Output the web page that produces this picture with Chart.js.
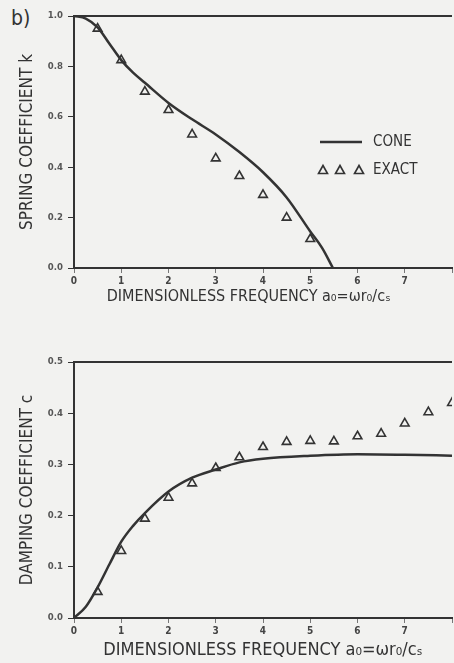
<!DOCTYPE html>
<html>
<head>
<meta charset="utf-8">
<script src="https://cdn.jsdelivr.net/npm/chart.js@4"></script>
<style>
  body { margin: 0; background: #f2f2f0; width: 454px; height: 663px; overflow: hidden; }
  .box { position: absolute; left: 0; width: 454px; }
  #label {
    position: absolute; left: 11px; top: 6px;
    font: 21px "Liberation Sans Narrow", "DejaVu Sans Condensed", sans-serif; color: #333;
  }
</style>
</head>
<body>
<div id="label">b)</div>
<div class="box" style="top:0;height:308px"><canvas id="spring"></canvas></div>
<div class="box" style="top:330px;height:333px"><canvas id="damping"></canvas></div>
<script>
// values
const coneFreqK = [0, 0.25, 0.5, 0.75, 1.0, 1.25, 1.5, 2.0, 2.5, 3.0, 3.5, 4.0, 4.5, 5.0, 5.25, 5.48];
const coneSpring = [1.0, 0.99, 0.955, 0.89, 0.825, 0.775, 0.735, 0.655, 0.59, 0.53, 0.46, 0.38, 0.28, 0.145, 0.08, 0.0];
const exactFreqK = [0.5, 1.0, 1.5, 2.0, 2.5, 3.0, 3.5, 4.0, 4.5, 5.0];
const exactSpring = [0.95, 0.825, 0.70, 0.627, 0.53, 0.435, 0.365, 0.29, 0.20, 0.115];

const coneFreqC = [0, 0.25, 0.5, 0.75, 1.0, 1.25, 1.5, 2.0, 2.5, 3.0, 3.5, 4.0, 5.0, 6.0, 7.0, 8.0];
const coneDamping = [0, 0.022, 0.06, 0.105, 0.149, 0.18, 0.205, 0.247, 0.274, 0.29, 0.304, 0.311, 0.317, 0.32, 0.319, 0.317];
const exactFreqC = [0.5, 1.0, 1.5, 2.0, 2.5, 3.0, 3.5, 4.0, 4.5, 5.0, 5.5, 6.0, 6.5, 7.0, 7.5, 8.0];
const exactDamping = [0.051, 0.131, 0.194, 0.235, 0.263, 0.293, 0.314, 0.334, 0.344, 0.346, 0.345, 0.355, 0.36, 0.38, 0.402, 0.42];

const freqTicks = [0, 1, 2, 3, 4, 5, 6, 7, 8];
const springTicks = [0, 0.2, 0.4, 0.6, 0.8, 1.0];
const dampingTicks = [0, 0.1, 0.2, 0.3, 0.4, 0.5];

const INK = "#333";
const NARROW = '"Liberation Sans Narrow", "DejaVu Sans Condensed", sans-serif';
const FREQ_TITLE = "DIMENSIONLESS FREQUENCY a\u2080=\u03c9r\u2080/c\u209b";

function pts(xs, ys) {
  return xs.map((x, i) => ({ x: x, y: ys[i] }));
}

// top border line of the plot frame
const frame = {
  id: "frame",
  afterDraw(chart) {
    const c = chart.ctx, a = chart.chartArea;
    c.save();
    c.strokeStyle = INK;
    c.lineWidth = 2;
    c.beginPath();
    c.moveTo(a.left, a.top);
    c.lineTo(a.right, a.top);
    c.stroke();
    c.restore();
  },
};

// legend drawn inside the plot, like the original
const innerLegend = {
  id: "innerLegend",
  afterDraw(chart) {
    const c = chart.ctx, a = chart.chartArea;
    const x0 = a.left + 246, y0 = a.top + 126;
    c.save();
    c.strokeStyle = INK;
    c.fillStyle = INK;
    c.lineWidth = 2.5;
    c.beginPath();
    c.moveTo(x0, y0);
    c.lineTo(x0 + 42, y0);
    c.stroke();
    c.font = "15px " + NARROW;
    c.textBaseline = "middle";
    c.fillText(chart.data.datasets[0].label, x0 + 53, y0);
    c.fillText(chart.data.datasets[1].label, x0 + 53, y0 + 28);
    c.lineWidth = 1.6;
    [3, 20, 39].forEach((dx) => {
      const cx = x0 + dx, cy = y0 + 28;
      c.beginPath();
      c.moveTo(cx, cy - 4.5);
      c.lineTo(cx + 4.5, cy + 3.5);
      c.lineTo(cx - 4.5, cy + 3.5);
      c.closePath();
      c.stroke();
    });
    c.restore();
  },
};

function makeChart(id, cone, exact, yTicks, yMax, yTitle, xTitle, xFont, padTop, xHeight) {
  const ctx = document.getElementById(id).getContext("2d");
  return new Chart(ctx, {
    type: "scatter",
    data: {
      datasets: [
        {
          label: "CONE",
          data: cone,
          showLine: true,
          borderColor: INK,
          borderWidth: 2.5,
          pointRadius: 0,
          cubicInterpolationMode: "monotone",
        },
        {
          label: "EXACT",
          data: exact,
          pointStyle: "triangle",
          pointRadius: 5,
          borderWidth: 1.6,
          borderColor: INK,
          backgroundColor: "rgba(0, 0, 0, 0)",
        },
      ],
    },
    options: {
      responsive: true,
      maintainAspectRatio: false,
      animation: false,
      layout: { autoPadding: false, padding: { top: padTop, right: 0, left: 0, bottom: 0 } },
      plugins: { legend: { display: false }, tooltip: { enabled: false } },
      scales: {
        x: {
          type: "linear",
          min: 0,
          max: 8,
          afterBuildTicks: (s) => { s.ticks = freqTicks.map((v) => ({ value: v })); },
          afterFit: (s) => { s.height = xHeight; },
          ticks: {
            color: "#444",
            font: { size: 10, family: NARROW, weight: "bold" },
            padding: 2,
            maxRotation: 0,
            callback: (v) => (v === 8 ? "" : v),
          },
          grid: { drawOnChartArea: false, tickLength: 5, color: "#777" },
          border: { color: INK, width: 2 },
          title: {
            display: true,
            text: xTitle,
            color: INK,
            font: { size: xFont, family: NARROW },
            padding: { top: 0, bottom: 2 },
          },
        },
        y: {
          min: 0,
          max: yMax,
          afterBuildTicks: (s) => { s.ticks = yTicks.map((v) => ({ value: v })); },
          afterFit: (s) => { s.width = 74; },
          ticks: {
            color: "#555",
            font: { size: 9.5, family: NARROW, weight: "bold" },
            padding: 5,
            callback: (v) => v.toFixed(1),
          },
          grid: { drawOnChartArea: false, tickLength: 6, color: INK },
          border: { color: INK, width: 2 },
          title: {
            display: true,
            text: yTitle,
            color: INK,
            font: { size: 17, family: NARROW },
            padding: { top: 17, bottom: 0 },
          },
        },
      },
    },
    plugins: id === "spring" ? [frame, innerLegend] : [frame],
  });
}

window.onload = function () {
  // trailing spaces nudge the upper title left, as in the original
  makeChart("spring", pts(coneFreqK, coneSpring), pts(exactFreqK, exactSpring),
    springTicks, 1.0, "SPRING COEFFICIENT k", FREQ_TITLE + "\u2003\u2003", 16, 16, 40);
  makeChart("damping", pts(coneFreqC, coneDamping), pts(exactFreqC, exactDamping),
    dampingTicks, 0.5, "DAMPING COEFFICIENT c", FREQ_TITLE, 18, 32, 45);
};
</script>
</body>
</html>
